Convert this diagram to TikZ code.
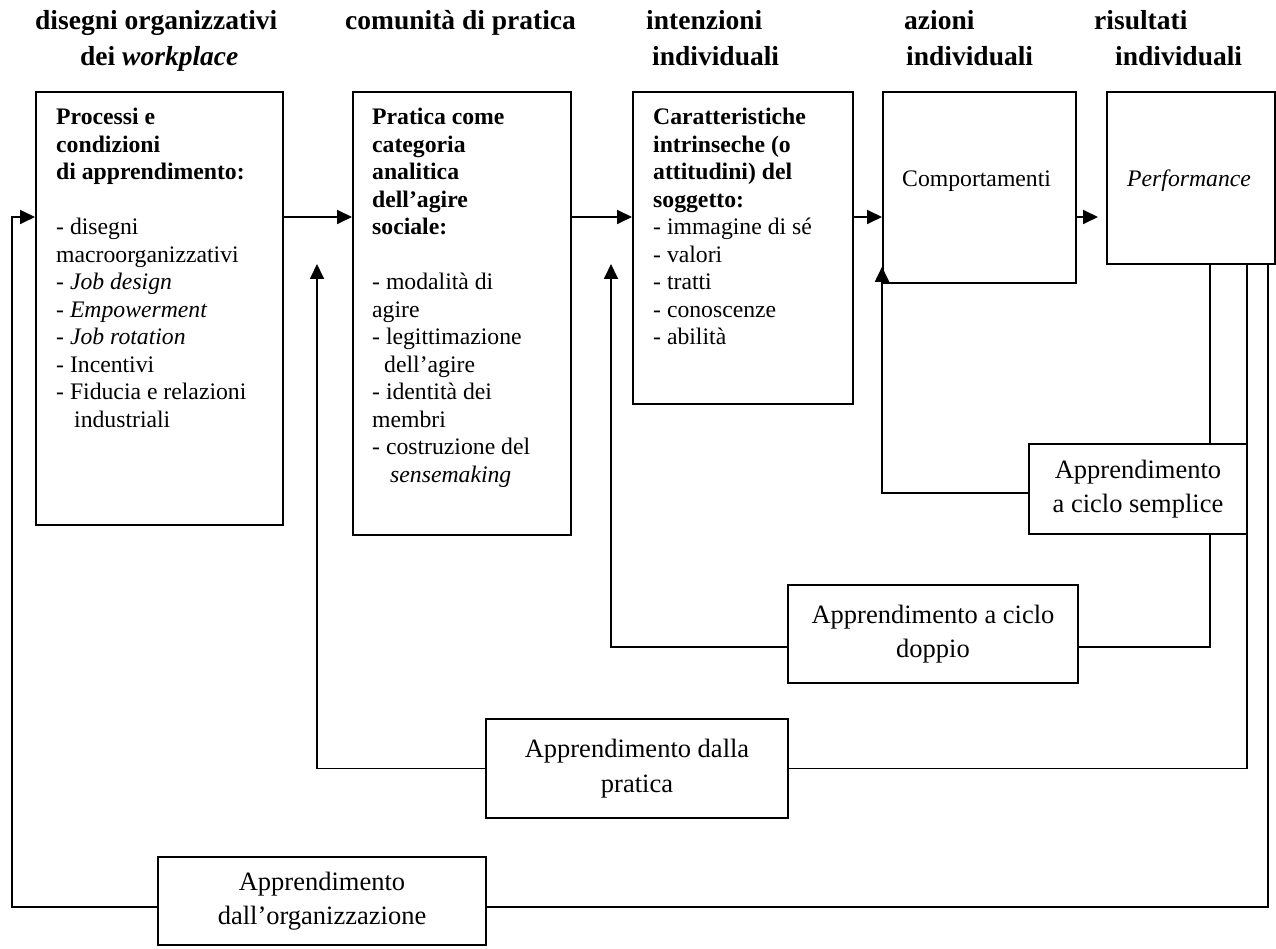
\documentclass[tikz,border=0pt]{standalone}
\usepackage{fontspec}
\setmainfont{Liberation Serif}
\usetikzlibrary{arrows.meta}
\newcommand{\bodyfont}{\fontsize{23.7}{27.5}\selectfont}
\newcommand{\hdrfont}{\fontsize{27.5}{34}\selectfont\bfseries}
\newcommand{\loopfont}{\fontsize{26.5}{34.5}\selectfont}
\newcommand{\lines}[1]{\begin{tabular}[t]{@{}l@{}}#1\end{tabular}}

\begin{document}
\begin{tikzpicture}[x=1pt,y=-1pt,
  box/.style={draw, line width=1.8pt, inner sep=0pt, anchor=north west},
  loopbox/.style={draw, line width=1.8pt, inner sep=0pt, align=center, font=\loopfont, fill=white},
  hdr/.style={anchor=base west, inner sep=0pt, font=\hdrfont},
  body/.style={anchor=base west, inner sep=0pt, font=\bodyfont},
  conn/.style={line width=1.8pt},
  flow/.style={conn, -{Triangle[length=15pt,width=14pt]}},
]
\useasboundingbox (0,0) rectangle (1276,949);

% column headings
\node[hdr] (h1a) at (35,30) {disegni organizzativi};
\node[hdr] (h1b) at (80,66) {dei \textit{workplace}};
\node[hdr] (h2)  at (345,30) {comunità di pratica};
\node[hdr] (h3a) at (646,30) {intenzioni};
\node[hdr] (h3b) at (652,66) {individuali};
\node[hdr] (h4a) at (904,30) {azioni};
\node[hdr] (h4b) at (906,66) {individuali};
\node[hdr] (h5a) at (1094,30) {risultati};
\node[hdr] (h5b) at (1115,66) {individuali};

% main boxes
\node[box, minimum width=247pt, minimum height=433pt] (b1) at (35,91) {};
\node[box, minimum width=218pt, minimum height=443pt] (b2) at (352,91) {};
\node[box, minimum width=220pt, minimum height=312pt] (b3) at (632,91) {};
\node[box, minimum width=193pt, minimum height=191pt] (b4) at (882,91) {};
\node[box, minimum width=168pt, minimum height=172pt] (b5) at (1106,91) {};

% box contents
\node[body] (t1) at (56,125) {\lines{%
  \textbf{Processi e}\\
  \textbf{condizioni}\\
  \textbf{di apprendimento:}\\
  \\
  - disegni\\
  macroorganizzativi\\
  - \textit{Job design}\\
  - \textit{Empowerment}\\
  - \textit{Job rotation}\\
  - Incentivi\\
  - Fiducia e relazioni\\
  \hspace{18pt}industriali}};

\node[body] (t2) at (372,125) {\lines{%
  \textbf{Pratica come}\\
  \textbf{categoria}\\
  \textbf{analitica}\\
  \textbf{dell’agire}\\
  \textbf{sociale:}\\
  \\
  - modalità di\\
  agire\\
  - legittimazione\\
  \hspace{12pt}dell’agire\\
  - identità dei\\
  membri\\
  - costruzione del\\
  \hspace{18pt}\textit{sensemaking}}};

\node[body] (t3) at (653,125) {\lines{%
  \textbf{Caratteristiche}\\
  \textbf{intrinseche (o}\\
  \textbf{attitudini) del}\\
  \textbf{soggetto:}\\
  - immagine di sé\\
  - valori\\
  - tratti\\
  - conoscenze\\
  - abilità}};

\node[body] (t4) at (902,187) {Comportamenti};
\node[body] (t5) at (1127,187) {\textit{Performance}};

% learning-loop boxes
\node[loopbox, minimum width=218pt, minimum height=90pt] (S) at (1138,489) {Apprendimento\\a ciclo semplice};
\node[loopbox, minimum width=290pt, minimum height=98pt] (D) at (933,634) {Apprendimento a ciclo\\doppio};
\node[loopbox, minimum width=302pt, minimum height=99pt] (P) at (637,768.5) {Apprendimento dalla\\pratica};
\node[loopbox, minimum width=328pt, minimum height=88pt] (O) at (322,901) {Apprendimento\\dall’organizzazione};

% reference coordinates
\coordinate (fy) at (0,217);
\coordinate (ty) at (0,264);
\coordinate (sx) at (1210,0);
\coordinate (sy) at (0,493);
\coordinate (dy) at (0,647);
\coordinate (dx) at (611,0);
\coordinate (px) at (1247,0);
\coordinate (ppx) at (317,0);
\coordinate (ox) at (1268,0);
\coordinate (oy) at (0,907);
\coordinate (lx) at (12,0);

% forward chain
\draw[flow] (b1.east |- fy) -- (b2.west |- fy);
\draw[flow] (b2.east |- fy) -- (b3.west |- fy);
\draw[flow] (b3.east |- fy) -- (b4.west |- fy);
\draw[flow, shorten >=8pt] (b4.east |- fy) -- (b5.west |- fy);

% single loop
\draw[conn] (b5.south -| sx) -- (S.north -| sx);
\draw[flow] (S.west |- sy) -- (b4.west |- sy) -- ([yshift=17pt]b4.south west);

% double loop
\draw[conn] (S.south -| sx) -- (sx |- dy) -- (D.east |- dy);
\draw[flow] (D.west |- dy) -- (dx |- dy) -- (dx |- ty);

% learning from practice
\draw[conn] (b5.south -| px) -- (px |- P.east) -- (P.east);
\draw[flow] (P.west) -- (ppx |- P.west) -- (ppx |- ty);

% organisational learning
\draw[conn] (b5.south -| ox) -- (ox |- oy) -- (O.east |- oy);
\draw[flow] (O.west |- oy) -- (lx |- oy) -- (lx |- fy) -- (b1.west |- fy);
\end{tikzpicture}
\end{document}
